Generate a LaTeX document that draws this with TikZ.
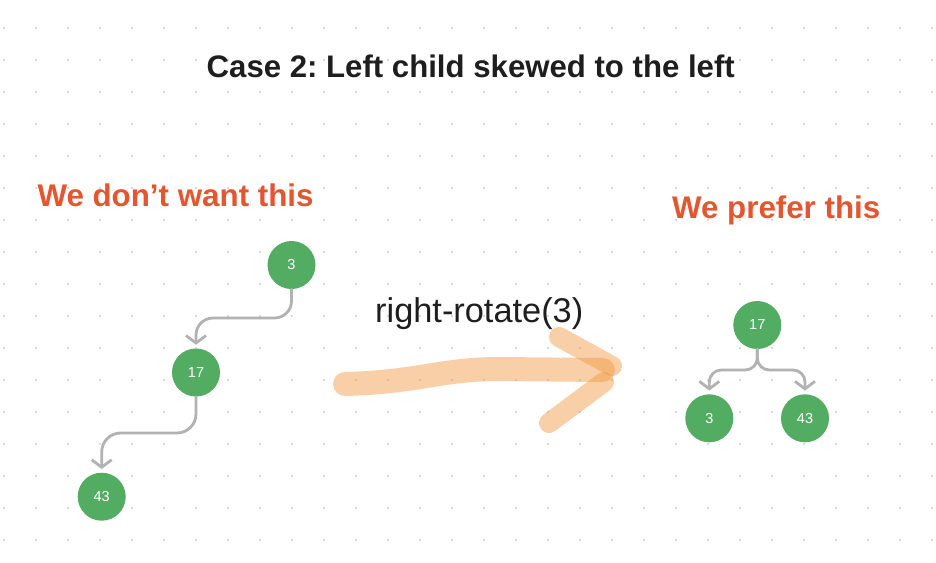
\documentclass[tikz,border=0pt]{standalone}
\usepackage{fontspec}
\setmainfont{Liberation Sans}
\frenchspacing
\usetikzlibrary{arrows.meta}
\definecolor{dotcol}{RGB}{205,205,205}
\definecolor{nodegreen}{RGB}{82,172,98}
\definecolor{connGray}{RGB}{178,178,178}
\definecolor{titlecol}{RGB}{30,30,30}
\definecolor{warnorange}{RGB}{228,86,48}
\definecolor{brush}{RGB}{242,150,60}
\tikzset{
  tn/.style={circle, fill=nodegreen, minimum size=48pt, inner sep=0pt, text=white, font=\fontsize{14.5}{16}\selectfont},
  conn/.style={draw=connGray, line width=2.8pt, line cap=round, line join=round,
    -{Straight Barb[length=7.5pt, width=20pt, line width=2.8pt]}, shorten >=3.5pt},
  brushstroke/.style={draw=brush, draw opacity=0.45, line cap=round, line join=round},
  lbl/.style={anchor=base west, inner sep=0pt}
}
\begin{document}
\begin{tikzpicture}[x=1pt, y=-1pt]
\useasboundingbox (0,0) rectangle (936,562);
\fill[white] (0,0) rectangle (936,562);
% dot grid
\foreach \i in {0,...,29}{
  \foreach \j in {0,...,16}{
    \fill[dotcol] ({4+32*\i},{28+32*\j}) circle (1.1pt);
  }
}
% title and labels
\node[lbl, text=titlecol] (title) at (206.5,77.3) {\resizebox{528pt}{!}{\bfseries Case 2: Left child skewed to the left}};
\node[lbl, text=warnorange] (bad) at (37.3,206.7) {\resizebox{276pt}{!}{\bfseries We don’t want this}};
\node[lbl, text=warnorange] (good) at (672,218.3) {\resizebox{208pt}{!}{\bfseries We prefer this}};
\node[lbl, text=titlecol] (op) at (375,322.3) {\resizebox{208pt}{!}{right-rotate(3)}};
% brush arrow
\draw[brushstroke, line width=24pt] (345,384) .. controls (420,382) and (440,369) .. (500,369) -- (603,370);
\draw[brushstroke, line width=20pt] (559,337) -- (612,366);
\draw[brushstroke, line width=20pt] (549,423) -- (604,382);
% left tree
\node[tn] (l3) at (291.5,265) {3};
\node[tn] (l17) at (196,372.5) {17};
\node[tn] (l43) at (101.7,496.7) {43};
\coordinate (lm1) at (240,318);
\coordinate (lm2) at (150,433);
\draw[conn, rounded corners=17pt] (l3.south) |- (lm1) -| (l17.north);
\draw[conn, rounded corners=19pt] (l17.south) |- (lm2) -| (l43.north);
% right tree
\node[tn] (r17) at (757.3,325) {17};
\node[tn] (r3) at (709.3,418.3) {3};
\node[tn] (r43) at (805,418.3) {43};
\coordinate (rm1) at (733,370);
\coordinate (rm2) at (781,370);
\draw[conn, rounded corners=12pt] (r17.south) |- (rm1) -| (r3.north);
\draw[conn, rounded corners=12pt] (r17.south) |- (rm2) -| (r43.north);
\end{tikzpicture}
\end{document}
